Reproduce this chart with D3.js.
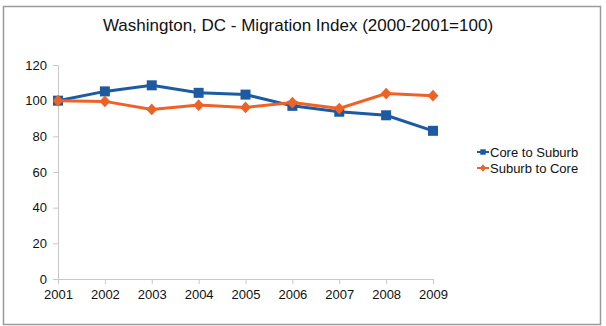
<!DOCTYPE html>
<html>
<head>
<meta charset="utf-8">
<script src="https://cdn.jsdelivr.net/npm/d3@7"></script>
<style>
  body { margin: 0; background: #fff; }
  svg { display: block; font-family: "Liberation Sans", Arial, sans-serif; }
</style>
</head>
<body>
<div id="chart"></div>
<script>
// data
const years = ["2001", "2002", "2003", "2004", "2005", "2006", "2007", "2008", "2009"];
const coreToSuburb = [100, 105.2, 108.6, 104.4, 103.4, 97.1, 93.8, 91.8, 83.1];
const suburbToCore = [100, 99.6, 95.1, 97.5, 96.2, 98.9, 95.6, 104, 102.8];
const yTicks = [0, 20, 40, 60, 80, 100, 120];

const w = 606, h = 326;

const svg = d3.select("#chart")
  .append("svg")
  .attr("width", w)
  .attr("height", h);

// outer frame
svg.append("rect")
  .attr("x", 3.5).attr("y", 6.5)
  .attr("width", 597).attr("height", 318)
  .attr("fill", "#fff")
  .attr("stroke", "#9a9a9a")
  .attr("stroke-width", 1.5);

svg.append("text")
  .attr("x", 298).attr("y", 31)
  .attr("text-anchor", "middle")
  .attr("font-size", "17px")
  .attr("fill", "#111")
  .text("Washington, DC - Migration Index (2000-2001=100)");

const x = d3.scalePoint().domain(years).range([58, 433]);
const y = d3.scaleLinear().domain([0, 120]).range([279, 65]);

const xAxis = svg.append("g")
  .attr("transform", "translate(0,279)")
  .call(d3.axisBottom(x).tickSizeInner(5).tickSizeOuter(0).tickPadding(6));
const yAxis = svg.append("g")
  .attr("transform", "translate(58,0)")
  .call(d3.axisLeft(y).tickValues(yTicks).tickSizeInner(5).tickSizeOuter(0).tickPadding(6));

[xAxis, yAxis].forEach(function(g) {
  g.selectAll("path, line").attr("stroke", "#c8c8c8");
  g.selectAll("text").attr("font-size", "13px").attr("fill", "#111")
    .attr("font-family", "Liberation Sans, Arial, sans-serif");
});

const blue = "#1c5ba2";
const orange = "#ef6225";

const line = d3.line()
  .x(function(d, i) { return x(years[i]); })
  .y(function(d) { return y(d); });

// core to suburb (squares)
svg.append("path")
  .datum(coreToSuburb)
  .attr("d", line)
  .attr("fill", "none")
  .attr("stroke", blue)
  .attr("stroke-width", 3);

svg.selectAll("rect.core")
  .data(coreToSuburb)
  .enter()
  .append("rect")
  .attr("class", "core")
  .attr("x", function(d, i) { return x(years[i]) - 5; })
  .attr("y", function(d) { return y(d) - 5; })
  .attr("width", 10).attr("height", 10)
  .attr("fill", blue);

// suburb to core (flat diamonds)
svg.append("path")
  .datum(suburbToCore)
  .attr("d", line)
  .attr("fill", "none")
  .attr("stroke", orange)
  .attr("stroke-width", 3);

const diamond = d3.symbol().type(d3.symbolDiamond).size(40);
svg.selectAll("path.sub")
  .data(suburbToCore)
  .enter()
  .append("path")
  .attr("class", "sub")
  .attr("d", diamond)
  .attr("transform", function(d, i) {
    return "translate(" + x(years[i]) + "," + y(d) + ") scale(1.6,1)";
  })
  .attr("fill", orange);

// legend
const legend = [
  { name: "Core to Suburb", color: blue, shape: "square" },
  { name: "Suburb to Core", color: orange, shape: "diamond" }
];
const lg = svg.selectAll("g.legend")
  .data(legend)
  .enter()
  .append("g")
  .attr("class", "legend")
  .attr("transform", function(d, i) { return "translate(477," + (152 + i * 16) + ")"; });

lg.append("line")
  .attr("x1", 0).attr("x2", 12)
  .attr("stroke", function(d) { return d.color; })
  .attr("stroke-width", 2);
lg.append("path")
  .attr("transform", function(d) {
    return d.shape === "square" ? "translate(6,0)" : "translate(6,0) scale(1.4,1)";
  })
  .attr("d", function(d) {
    return d.shape === "square"
      ? d3.symbol().type(d3.symbolSquare).size(30)()
      : d3.symbol().type(d3.symbolDiamond).size(16)();
  })
  .attr("fill", function(d) { return d.color; });
lg.append("text")
  .attr("x", 13).attr("y", 5)
  .attr("font-size", "13px")
  .attr("fill", "#111")
  .text(function(d) { return d.name; });
</script>
</body>
</html>
